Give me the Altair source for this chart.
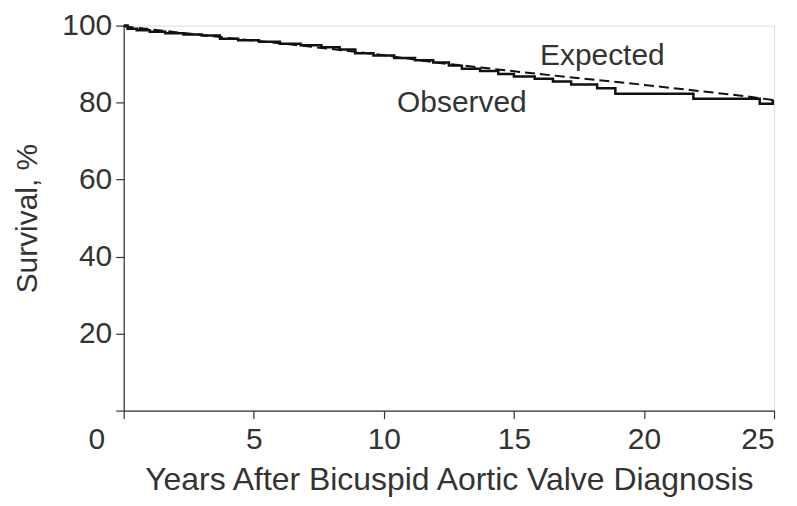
import altair as alt
import pandas as pd

# Observed Kaplan-Meier survival (step curve)
obs_years = [0, 0.15, 0.5, 1.0, 1.6, 2.3, 3.0, 3.7, 4.4, 5.2, 6.0, 6.8, 7.6, 8.3, 8.9,
             9.6, 10.4, 11.2, 11.9, 12.5, 13.0, 13.7, 14.4, 15.0, 15.8, 16.5, 17.2,
             18.2, 18.9, 21.9, 24.45, 24.95, 25.0]
obs_surv = [100, 99.2, 98.8, 98.4, 98.0, 97.7, 97.4, 96.6, 96.2, 95.8, 95.3, 94.9, 94.4,
            93.8, 92.8, 92.2, 91.6, 91.0, 90.4, 89.6, 88.8, 88.2, 87.4, 86.8, 86.2,
            85.5, 84.7, 83.7, 82.3, 81.0, 79.7, 80.5, 80.5]

# Expected survival (dashed)
exp_years = [0, 2, 4, 6, 8, 10, 12, 14, 16, 18, 20, 22, 24, 25]
exp_surv = [99.8, 98.3, 96.8, 95.4, 93.9, 92.3, 90.4, 88.9, 87.4, 86.0, 84.6, 83.1, 81.6, 80.6]

# Annotation labels
label_text = ["Expected", "Observed"]
label_x = [18.4, 13.0]
label_y = [92.0, 80.0]

x_ticks = [0, 5, 10, 15, 20, 25]
y_ticks = [0, 20, 40, 60, 80, 100]

FONT = "Liberation Sans"
TXT = "#333333"

obs_df = pd.DataFrame({"year": obs_years, "surv": obs_surv})
exp_df = pd.DataFrame({"year": exp_years, "surv": exp_surv})
lab_df = pd.DataFrame({"text": label_text, "year": label_x, "surv": label_y})
zero_df = pd.DataFrame({"text": ["0"], "year": [0], "surv": [0]})

xscale = alt.Scale(domain=[0, 25], nice=False, zero=True)
yscale = alt.Scale(domain=[0, 100], nice=False)

xaxis = alt.Axis(values=x_ticks, title="Years After Bicuspid Aortic Valve Diagnosis",
                 labelExpr="datum.value == 0 ? '' : datum.label",
                 grid=False, tickSize=8, labelPadding=6, labelFontSize=30,
                 labelFont=FONT, labelColor=TXT, titleFont=FONT, titleFontSize=32,
                 titleFontWeight="normal", titleColor=TXT, titlePadding=10,
                 domainColor="#333", tickColor="#333", domainWidth=1.2, tickWidth=1.2)
yaxis = alt.Axis(values=y_ticks, title="Survival, %",
                 labelExpr="datum.value == 0 ? '' : datum.label",
                 grid=False, tickSize=8, labelPadding=4, labelFontSize=30,
                 labelFont=FONT, labelColor=TXT, titleFont=FONT, titleFontSize=30,
                 titleFontWeight="normal", titleColor=TXT, titlePadding=19,
                 domainColor="#333", tickColor="#333", domainWidth=1.2, tickWidth=1.2)

obs = alt.Chart(obs_df).mark_line(interpolate="step-after", color="#111", strokeWidth=2.5).encode(
    x=alt.X("year:Q", scale=xscale, axis=xaxis),
    y=alt.Y("surv:Q", scale=yscale, axis=yaxis),
)
exp = alt.Chart(exp_df).mark_line(color="#111", strokeWidth=2, strokeDash=[10, 5]).encode(
    x=alt.X("year:Q", scale=xscale),
    y=alt.Y("surv:Q", scale=yscale),
)
labels = alt.Chart(lab_df).mark_text(font=FONT, fontSize=30, color=TXT, align="center",
                                     baseline="middle").encode(
    x=alt.X("year:Q", scale=xscale), y=alt.Y("surv:Q", scale=yscale), text="text:N")
zero = alt.Chart(zero_df).mark_text(font=FONT, fontSize=30, color=TXT, align="center",
                                    baseline="middle", dx=-27, dy=30).encode(
    x=alt.X("year:Q", scale=xscale), y=alt.Y("surv:Q", scale=yscale), text="text:N")

chart = (obs + exp + labels + zero).properties(
    width=652, height=386,
    autosize=alt.AutoSizeParams(type="none"),
    padding={"left": 116, "top": 17, "right": 15, "bottom": 87},
).configure_view(stroke=None).configure(background="white")

chart.save("out.html", embed_options={"renderer": "svg", "actions": False})
